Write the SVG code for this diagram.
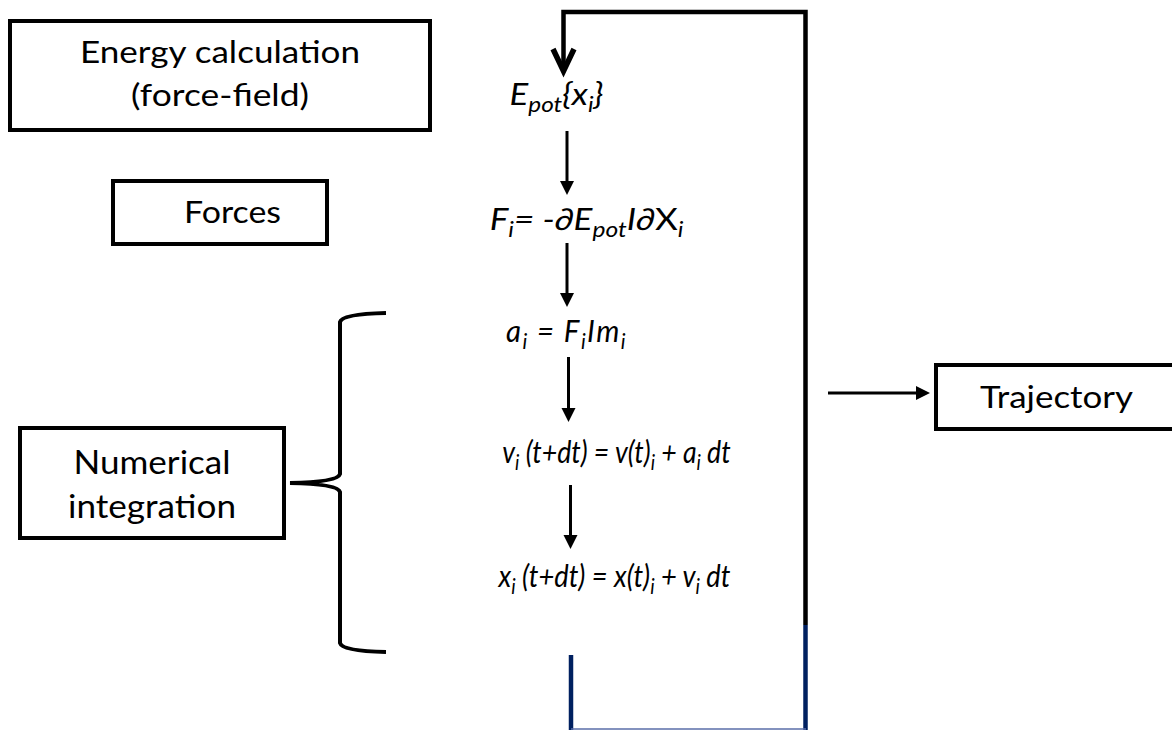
<svg xmlns="http://www.w3.org/2000/svg" width="1172" height="730" viewBox="0 0 1172 730">
<defs>
<style>
.box{fill:#fff;stroke:#000;stroke-width:4}
.lbl{font-family:Lato,"Liberation Sans",sans-serif;fill:#000;text-anchor:middle}
.m{font-family:Lato,"Liberation Sans",sans-serif;font-style:italic;font-size:30px;fill:#000;text-anchor:middle}
.sub{font-size:21px}
.up{font-style:normal}
.ln{fill:none;stroke:#000;stroke-width:3}
.loop{fill:none;stroke:#000;stroke-width:4.5}
.navy{fill:none;stroke:#002060;stroke-width:4.5}
</style>
<marker id="ah" markerUnits="userSpaceOnUse" viewBox="0 -8 16 16" refX="2" refY="0" markerWidth="16" markerHeight="16" orient="auto">
<path d="M0,-7 L14,0 L0,7 Z" fill="#000"/>
</marker>
</defs>
<rect width="1172" height="730" fill="#fff"/>

<g id="energy">
<rect class="box" x="10" y="21" width="420" height="109"/>
<text class="lbl" x="220" y="63" font-size="30" textLength="280" lengthAdjust="spacingAndGlyphs">Energy calculation</text>
<text class="lbl" x="220" y="106" font-size="30" textLength="178" lengthAdjust="spacingAndGlyphs">(force-field)</text>
</g>

<g id="forces">
<rect class="box" x="113" y="181" width="214" height="63"/>
<text class="lbl" x="232.5" y="223" font-size="31" textLength="97" lengthAdjust="spacingAndGlyphs">Forces</text>
</g>

<g id="numerical">
<rect class="box" x="20" y="428" width="264" height="110"/>
<text class="lbl" x="152" y="474" font-size="32" textLength="157" lengthAdjust="spacingAndGlyphs">Numerical</text>
<text class="lbl" x="152" y="518" font-size="32" textLength="168" lengthAdjust="spacingAndGlyphs">integration</text>
</g>

<g id="trajectory">
<rect class="box" x="936" y="365" width="245" height="64"/>
<text class="lbl" x="1056.5" y="408" font-size="30" textLength="153" lengthAdjust="spacingAndGlyphs">Trajectory</text>
</g>

<g id="eq-epot" transform="translate(556.5,0) scale(1.16,1)">
<text class="m" x="0" y="105">E<tspan class="sub" dy="7">pot</tspan><tspan dy="-7">{x</tspan><tspan class="sub" dy="7">i</tspan><tspan dy="-7">}</tspan></text>
</g>
<g id="eq-force" transform="translate(586.5,0) scale(1.17,1)">
<text class="m" x="0" y="230">F<tspan class="sub" dy="7">i</tspan><tspan dy="-7">= -∂E</tspan><tspan class="sub" dy="7">pot</tspan><tspan dy="-7">I∂</tspan><tspan class="up">X</tspan><tspan class="sub" dy="7">i</tspan></text>
</g>
<g id="eq-accel" transform="translate(566.5,0) scale(0.98,1)">
<text class="m" x="0" y="342" letter-spacing="1.5">a<tspan class="sub" dy="7">i</tspan><tspan dy="-7"> = F</tspan><tspan class="sub" dy="7">i</tspan><tspan dy="-7">Im</tspan><tspan class="sub" dy="7">i</tspan></text>
</g>
<g id="eq-vel" transform="translate(616.5,0) scale(0.89,1)">
<text class="m" x="0" y="463">v<tspan class="sub" dy="7">i</tspan><tspan dy="-7"> (t+dt) = v(t)</tspan><tspan class="sub" dy="7">i</tspan><tspan dy="-7"> + a</tspan><tspan class="sub" dy="7">i</tspan><tspan dy="-7"> dt</tspan></text>
</g>
<g id="eq-pos" transform="translate(614.5,0) scale(0.91,1)">
<text class="m" x="0" y="587">x<tspan class="sub" dy="7">i</tspan><tspan dy="-7"> (t+dt) = x(t)</tspan><tspan class="sub" dy="7">i</tspan><tspan dy="-7"> + v</tspan><tspan class="sub" dy="7">i</tspan><tspan dy="-7"> dt</tspan></text>
</g>

<g id="connectors">
<line class="ln" x1="567" y1="131" x2="567" y2="183" marker-end="url(#ah)"/>
<line class="ln" x1="567" y1="243" x2="567" y2="295" marker-end="url(#ah)"/>
<line class="ln" x1="568.5" y1="357" x2="568.5" y2="410" marker-end="url(#ah)"/>
<line class="ln" x1="570.5" y1="485" x2="570.5" y2="537" marker-end="url(#ah)"/>
<line class="ln" x1="828" y1="393" x2="918" y2="393" marker-end="url(#ah)"/>
<path class="loop" d="M563.5,70 V12 H805.5 V625"/>
<polyline points="553,49 563.5,71 574,49" fill="none" stroke="#000" stroke-width="5.5"/>
<line class="navy" x1="805.5" y1="625" x2="805.5" y2="730"/>
<line class="navy" x1="571" y1="655" x2="571" y2="730"/>
<line x1="571" y1="729" x2="806" y2="729" stroke="#5a6ea8" stroke-width="1.5"/>
<path d="M386,313 Q342,314 340,322 L340,474 Q338,482 290,483 Q338,484 340,492 L340,643 Q342,651 386,652" fill="none" stroke="#000" stroke-width="4"/>
</g>
</svg>
